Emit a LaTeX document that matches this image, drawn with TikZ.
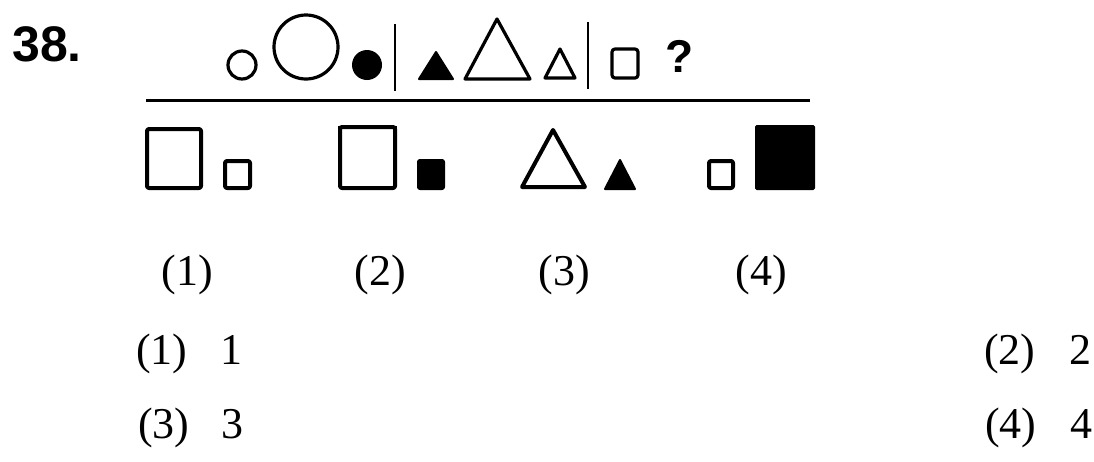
\documentclass[tikz,border=0pt]{standalone}
\usepackage{fontspec}
\setmainfont{Liberation Serif}
\newfontfamily\qsans{Liberation Sans}
\begin{document}
\begin{tikzpicture}[x=1pt,y=-1pt,
  shp/.style={draw=black,line width=3.2pt,line join=round},
  shpb/.style={draw=black,line width=4pt,line join=round,rounded corners=2pt},
  fil/.style={fill=black,draw=black,line width=2pt,line join=round},
  bar/.style={draw=black,line width=2.6pt},
  lbl/.style={inner sep=0pt,anchor=base,font=\fontsize{44}{50}\selectfont},
  ans/.style={inner sep=0pt,anchor=base west,font=\fontsize{44}{50}\selectfont},
  hd/.style={inner sep=0pt,font=\qsans\bfseries\fontsize{50}{55}\selectfont}]
\useasboundingbox (0,0) rectangle (1094,461);
% question number
\node[hd,anchor=base west] (num) at (12,61) {38.};
% top series
\draw[shp] (242,65) circle[radius=14pt];
\draw[shp] (306,47) circle[radius=32pt];
\fill (367,65) circle[radius=15pt];
\draw[bar] (395,24) -- (395,91);
\draw[fil] (419,79) -- (453,79) -- (436,52) -- cycle;
\draw[shp] (465,79) -- (530,79) -- (497,19) -- cycle;
\draw[shp] (545,78) -- (575,78) -- (560,49) -- cycle;
\draw[bar] (588,22) -- (588,89);
\draw[shp,rounded corners=3pt] (612,49) rectangle (638,78);
\node[hd,anchor=base,font=\qsans\bfseries\fontsize{46}{50}\selectfont] (q) at (680,72) {?};
\draw[line width=3pt] (146,100) -- (810,100);
% answer figures
\draw[shpb] (147,129) rectangle (201,188);
\draw[shpb] (225,161) rectangle (250,188);
\draw[shpb] (340,127) rectangle (395,188);
\draw[line width=2pt] (338,126.5) -- (397,126.5);
\draw[fil,rounded corners=2pt] (418,160) rectangle (444,189);
\draw[shpb,rounded corners=0pt] (522,187) -- (585,187) -- (553,130) -- cycle;
\draw[fil] (605,189) -- (635,189) -- (620,160) -- cycle;
\draw[shpb] (709,161) rectangle (733,188);
\draw[fil,rounded corners=1pt] (756,126) rectangle (814,189);
% captions
\node[lbl] (c1) at (187,285) {(1)};
\node[lbl] (c2) at (380,285) {(2)};
\node[lbl] (c3) at (564,285) {(3)};
\node[lbl] (c4) at (761,285) {(4)};
% options
\node[ans] (o1) at (136,364) {(1)\hspace{33pt}1};
\node[ans] (o2) at (984,364) {(2)\hspace{34pt}2};
\node[ans] (o3) at (138,438) {(3)\hspace{32pt}3};
\node[ans] (o4) at (985,438) {(4)\hspace{34pt}4};
\end{tikzpicture}
\end{document}
